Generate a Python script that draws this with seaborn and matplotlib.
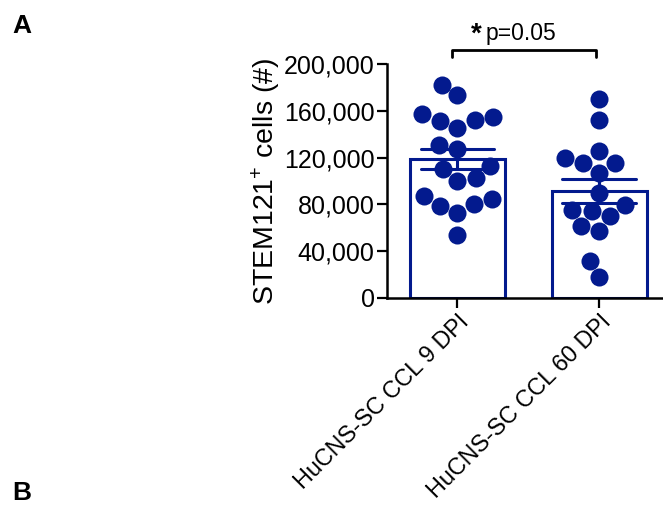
import seaborn as sns
import matplotlib.pyplot as plt
import pandas as pd

# Cell counts
groups = ['HuCNS-SC CCL 9 DPI', 'HuCNS-SC CCL 60 DPI']
dpi9_counts = [173500, 182000, 154400, 151600, 152100, 157000, 145600, 130800,
               127400, 112800, 110200, 102300, 100300, 87200, 80300, 78900,
               84300, 72400, 53800]
dpi60_counts = [169800, 152100, 120000, 115100, 115100, 125900, 106600, 90000,
                74400, 79500, 70100, 75200, 61800, 57300, 31600, 18200]
y_ticks = [0, 40000, 80000, 120000, 160000, 200000]
y_label = 'STEM121$^{+}$ cells (#)'
p_text = 'p=0.05'

blue = '#031a8e'

df = pd.DataFrame({
    'group': [groups[0]] * len(dpi9_counts) + [groups[1]] * len(dpi60_counts),
    'cells': dpi9_counts + dpi60_counts,
})

sns.set_style('ticks')
plt.rcParams['font.family'] = ['Liberation Sans', 'DejaVu Sans']
plt.rcParams['mathtext.fontset'] = 'custom'
plt.rcParams['mathtext.rm'] = 'Liberation Sans'
plt.rcParams['mathtext.it'] = 'Liberation Sans'
plt.rcParams['text.color'] = 'black'
plt.rcParams['axes.labelcolor'] = 'black'
plt.rcParams['xtick.color'] = 'black'
plt.rcParams['ytick.color'] = 'black'

fig = plt.figure(figsize=(6.63, 5.05), dpi=100)
ax = fig.add_axes([0.583, 0.410, 0.415, 0.463])

sns.barplot(data=df, x='group', y='cells', order=groups, errorbar='se',
            width=0.67, fill=False, color=blue, linewidth=2.2,
            capsize=0.52, err_kws={'color': blue, 'linewidth': 2.2}, ax=ax)
err_lines = list(ax.lines)
sns.swarmplot(data=df, x='group', y='cells', order=groups, color=blue,
              size=13, linewidth=0, ax=ax, zorder=3)
for ln in err_lines:
    ln.set_zorder(4)

ax.set_ylim(0, 200000)
ax.set_xlim(-0.5, 1.44)
ax.set_yticks(y_ticks)
ax.set_yticklabels([f'{v:,}' for v in y_ticks], fontsize=18)
ax.set_xticks(range(len(groups)))
ax.set_xticklabels(groups, rotation=45, ha='right', rotation_mode='anchor',
                   fontsize=16.8)
ax.set_xlabel('')
ax.set_ylabel(y_label, fontsize=20.5, labelpad=1)
ax.tick_params(axis='both', length=7, width=1.6, color='black', pad=1.5)
for s in ['left', 'bottom']:
    ax.spines[s].set_linewidth(1.8)
    ax.spines[s].set_color('black')
sns.despine(ax=ax)

# significance bracket
ax.plot([-0.04, -0.04, 0.98, 0.98], [206000, 212000, 212000, 206000],
        color='black', linewidth=2, clip_on=False)
ax.text(0.096, 219000, '*', fontsize=20, fontweight='bold', ha='left',
        va='baseline')
ax.text(0.20, 220500, p_text, fontsize=16.5, ha='left', va='baseline')

fig.text(0.018, 0.972, 'A', fontsize=19, fontweight='bold', va='top')
fig.text(0.018, 0.0, 'B', fontsize=19, fontweight='bold', va='bottom')

fig.savefig('out.png', dpi=100)
